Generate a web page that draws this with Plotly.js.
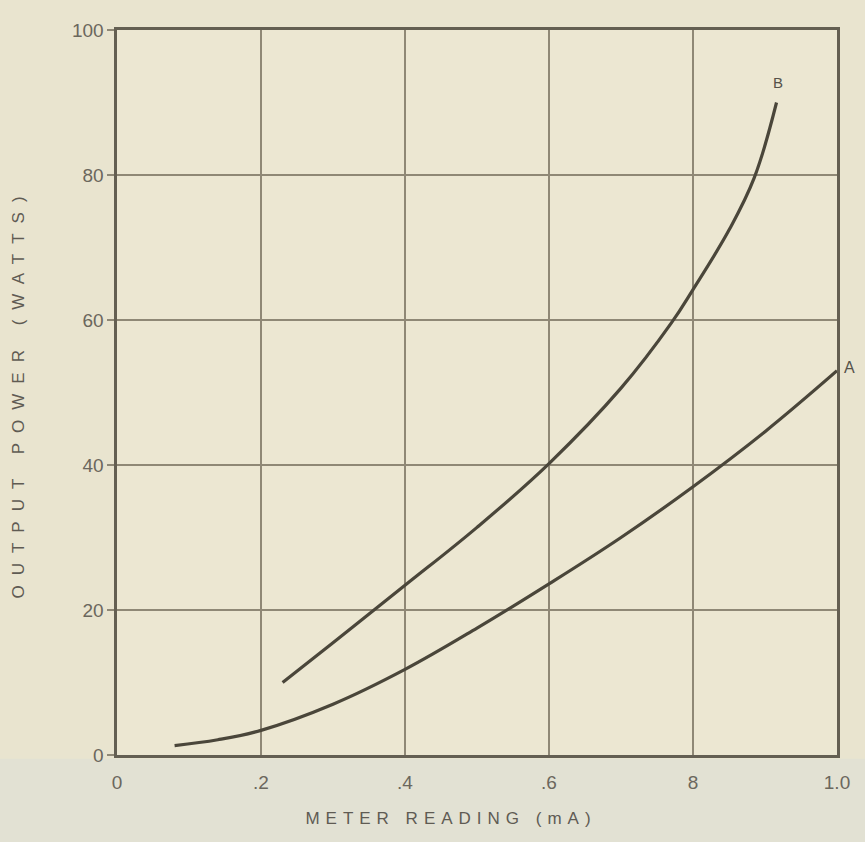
<!DOCTYPE html>
<html>
<head>
<meta charset="utf-8">
<script src="https://cdn.plot.ly/plotly-3.0.1.min.js"></script>
<style>
  html, body { margin: 0; padding: 0; background: #e9e4cf; }
  #chart { width: 865px; height: 842px; }
  .ytitle { letter-spacing: 10px; }
  .xtitle { letter-spacing: 6px; transform: translate(-26px, 0px); }
</style>
</head>
<body>
<div id="chart"></div>
<script>
// Meter reading (mA) vs output power (watts)
const curveA_x = [0.08, 0.14, 0.2, 0.3, 0.4, 0.5, 0.6, 0.7, 0.8, 0.9, 1.0];
const curveA_y = [1.3, 2.1, 3.4, 7.0, 11.8, 17.5, 23.6, 30.0, 37.0, 44.6, 53.0];

const curveB_x = [0.23, 0.3, 0.4, 0.5, 0.6, 0.7, 0.77, 0.8, 0.85, 0.885, 0.916];
const curveB_y = [10.0, 15.5, 23.4, 31.4, 40.2, 50.6, 59.6, 64.2, 72.4, 79.6, 90.0];

const xTickVals = [0, 0.2, 0.4, 0.6, 0.8, 1.0];
const xTickText = ["0", ".2", ".4", ".6", "8", "1.0"];
const yTickVals = [0, 20, 40, 60, 80, 100];
const yTickText = ["0", "20", "40", "60", "80", "100"];

const curveLabels = ["A", "B"];

const lineStyle = {color: '#4a463a', width: 3.2, shape: 'spline', smoothing: 1.1};

const traces = [
  {x: curveA_x, y: curveA_y, type: 'scatter', mode: 'lines', name: curveLabels[0], line: lineStyle, hoverinfo: 'x+y'},
  {x: curveB_x, y: curveB_y, type: 'scatter', mode: 'lines', name: curveLabels[1], line: lineStyle, hoverinfo: 'x+y'}
];

const tickFont = {family: 'Liberation Sans, DejaVu Sans, sans-serif', size: 19, color: '#6b675d'};
const titleFont = {family: 'Liberation Sans, DejaVu Sans, sans-serif', size: 17, color: '#5f5b53'};

const layout = {
  width: 865,
  height: 842,
  margin: {l: 117, r: 28, t: 30, b: 87},
  paper_bgcolor: '#e9e4cf',
  plot_bgcolor: '#ece7d2',
  showlegend: false,
  xaxis: {
    range: [0, 1.0],
    tickvals: xTickVals,
    ticktext: xTickText,
    tickfont: tickFont,
    ticks: '',
    ticklabelstandoff: 9,
    showgrid: true,
    gridcolor: '#8f8876',
    gridwidth: 1.6,
    zeroline: false,
    showline: true,
    linecolor: '#645f52',
    linewidth: 2.6,
    mirror: true,
    title: {text: 'METER READING (mA)', font: titleFont, standoff: 20},
    fixedrange: true
  },
  yaxis: {
    range: [0, 100],
    tickvals: yTickVals,
    ticktext: yTickText,
    tickfont: tickFont,
    ticks: 'outside',
    ticklen: 7,
    tickwidth: 1.5,
    tickcolor: '#8f8876',
    showgrid: true,
    gridcolor: '#8f8876',
    gridwidth: 1.6,
    zeroline: false,
    showline: true,
    linecolor: '#645f52',
    linewidth: 2.6,
    mirror: true,
    title: {text: 'OUTPUT POWER (WATTS)', font: titleFont, standoff: 43},
    fixedrange: true
  },
  annotations: [
    {x: 0.918, y: 92.8, xref: 'x', yref: 'y', text: curveLabels[1], showarrow: false,
     font: {family: 'Liberation Sans, DejaVu Sans, sans-serif', size: 15, color: '#55524a'}},
    {x: 1.028, y: 53.4, xref: 'paper', yref: 'y', text: curveLabels[0], showarrow: false,
     font: {family: 'Liberation Sans, DejaVu Sans, sans-serif', size: 16, color: '#55524a'}}
  ],
  shapes: [
    {type: 'rect', xref: 'paper', yref: 'paper', x0: -0.2, x1: 1.1, y0: -0.125, y1: -0.005,
     fillcolor: 'rgba(222,223,214,0.6)', line: {width: 0}, layer: 'below'}
  ]
};

Plotly.newPlot('chart', traces, layout, {displayModeBar: false, staticPlot: true});
</script>
</body>
</html>
